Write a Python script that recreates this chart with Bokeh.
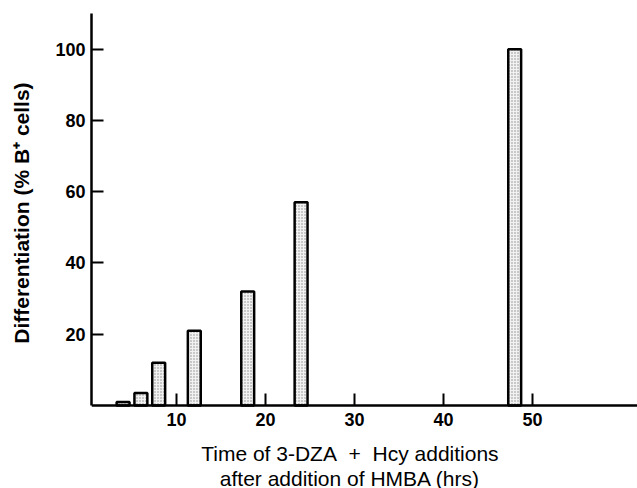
from bokeh.plotting import figure
from bokeh.models import Range1d, FixedTicker
from bokeh.embed import file_html
from bokeh.resources import INLINE

# Data
times = [4, 6, 8, 12, 18, 24, 48]
differentiation = [1, 3.5, 12, 21, 32, 57, 100]
x_ticks = [10, 20, 30, 40, 50]
y_ticks = [20, 40, 60, 80, 100]
pad = "\u00a0" * 5
x_title = ("Time of 3-DZA\u00a0\u00a0+\u00a0\u00a0Hcy additions" + pad + "\n"
           + "after addition of HMBA (hrs)" + pad)
# leading no-break spaces keep the rotated title centred on the 0-110 part of the axis
y_title = "\u00a0" * 13 + "Differentiation (% B\u207a cells)"

# frame spans the whole lower area; the x axis sits at y = 0
p = figure(width=637, height=488, output_backend="svg", toolbar_location=None,
           x_range=Range1d(0.45, 61.8), y_range=Range1d(-23.29, 110),
           min_border_left=91, min_border_right=0, min_border_top=13,
           min_border_bottom=0)
p.outline_line_color = None
p.xgrid.grid_line_color = None
p.ygrid.grid_line_color = None
p.background_fill_color = "white"
p.border_fill_color = "white"

p.vbar(x=times, top=differentiation, bottom=0, width=1.45,
       fill_color="#f2f2f2", line_color="black", line_width=2.5,
       hatch_pattern="dot", hatch_scale=3, hatch_color="#8a8a8a", hatch_weight=1)

font = "Liberation Sans"
for ax in (p.xaxis[0], p.yaxis[0]):
    ax.axis_line_width = 2.5
    ax.axis_line_color = "black"
    ax.major_tick_in = 12
    ax.major_tick_out = 0
    ax.major_tick_line_width = 2
    ax.major_tick_line_color = "black"
    ax.minor_tick_line_color = None
    ax.major_label_text_font = font
    ax.major_label_text_font_style = "bold"
    ax.major_label_text_font_size = "18px"
    ax.major_label_text_color = "black"
    ax.axis_label_text_font = font
    ax.axis_label_text_color = "black"

p.xaxis.ticker = FixedTicker(ticks=x_ticks)
p.yaxis.ticker = FixedTicker(ticks=y_ticks)
p.xaxis.fixed_location = 0
p.yaxis.bounds = (0, 110)
p.xaxis.major_label_standoff = 7
p.yaxis.major_label_standoff = 6

p.yaxis.axis_label = y_title
p.yaxis.axis_label_text_font_style = "bold"
p.yaxis.axis_label_text_font_size = "21px"
p.yaxis.axis_label_standoff = 19

p.xaxis.axis_label = x_title
p.xaxis.axis_label_text_font_style = "normal"
p.xaxis.axis_label_text_font_size = "21px"
p.xaxis.axis_label_text_line_height = 1.1
p.xaxis.axis_label_standoff = 13

open("out.html", "w").write(file_html(p, INLINE))
